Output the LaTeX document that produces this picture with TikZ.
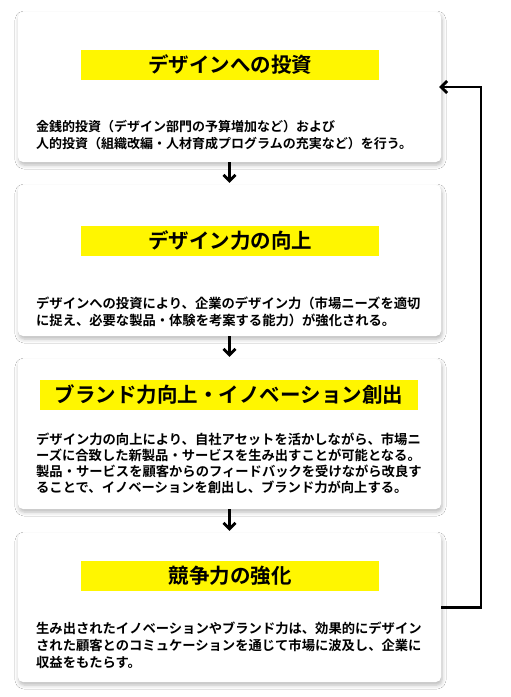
\documentclass[tikz,border=0pt]{standalone}
\usepackage{fontspec}
\setmainfont{Noto Sans CJK JP}[BoldFont={Noto Sans CJK JP Bold}]
\usetikzlibrary{arrows.meta,shadows.blur}
\definecolor{hl}{RGB}{255,246,0}
\tikzset{
  card/.style={draw=none,fill=white,rounded corners=5pt,minimum width=423pt,minimum height=150pt,inner sep=0pt,
    blur shadow={shadow xshift=1pt,shadow yshift=-3pt,shadow blur radius=4pt,shadow opacity=28}},
  titlebar/.style={fill=hl,inner sep=0pt,minimum height=30pt,font=\bfseries\fontsize{20.5}{24}\selectfont},
  body/.style={anchor=west,inner sep=0pt,align=left,font=\bfseries\fontsize{13}{16.5}\selectfont},
  flow/.style={line width=2.7pt,-{Straight Barb[length=6pt,width=12pt,line width=2.7pt]}},
}
\begin{document}
\begin{tikzpicture}[x=1pt,y=-1pt]
\useasboundingbox[fill=white] (0,0) rectangle (511,697);
% cards
\node[card] (b1) at (229.5,87) {};
\node[card,minimum height=151pt] (b2) at (229.5,260.5) {};
\node[card] (b3) at (229.5,434) {};
\node[card,minimum height=149pt] (b4) at (229.5,607.5) {};
% titles
\node[titlebar,minimum width=298pt] (t1) at (230,65) {デザインへの投資};
\node[titlebar,minimum width=298pt] (t2) at (230,241) {デザイン力の向上};
\node[titlebar,minimum width=378pt] (t3) at (229,395) {ブランド力向上・イノベーション創出};
\node[titlebar,minimum width=298pt] (t4) at (230,576) {競争力の強化};
% bodies
\node[body] (d1) at (36,135) {金銭的投資（デザイン部門の予算増加など）および\\人的投資（組織改編・人材育成プログラムの充実など）を行う。};
\node[body,font=\bfseries\fontsize{13.3}{17}\selectfont] (d2) at (36,311.5) {デザインへの投資により、企業のデザイン力（市場ニーズを適切\\に捉え、必要な製品・体験を考案する能力）が強化される。};
\node[body,font=\bfseries\fontsize{13.3}{15.8}\selectfont] (d3) at (36,463.5) {デザイン力の向上により、自社アセットを活かしながら、市場ニ\\ーズに合致した新製品・サービスを生み出すことが可能となる。\\製品・サービスを顧客からのフィードバックを受けながら改良す\\ることで、イノベーションを創出し、ブランド力が向上する。};
\node[body,font=\bfseries\fontsize{13.3}{17}\selectfont] (d4) at (36,645) {生み出されたイノベーションやブランド力は、効果的にデザイン\\された顧客とのコミュケーションを通じて市場に波及し、企業に\\収益をもたらす。};
% connectors
\draw[flow,shorten >=2pt] (b1.south) -- (b2.north);
\draw[flow,shorten >=2pt] (b2.south) -- (b3.north);
\draw[flow,shorten >=2pt] (b3.south) -- (b4.north);
\coordinate (fb) at (481,607.5);
\draw[flow,shorten >=-2pt] (b4.east) -- (fb) |- (b1.east);
\end{tikzpicture}
\end{document}
